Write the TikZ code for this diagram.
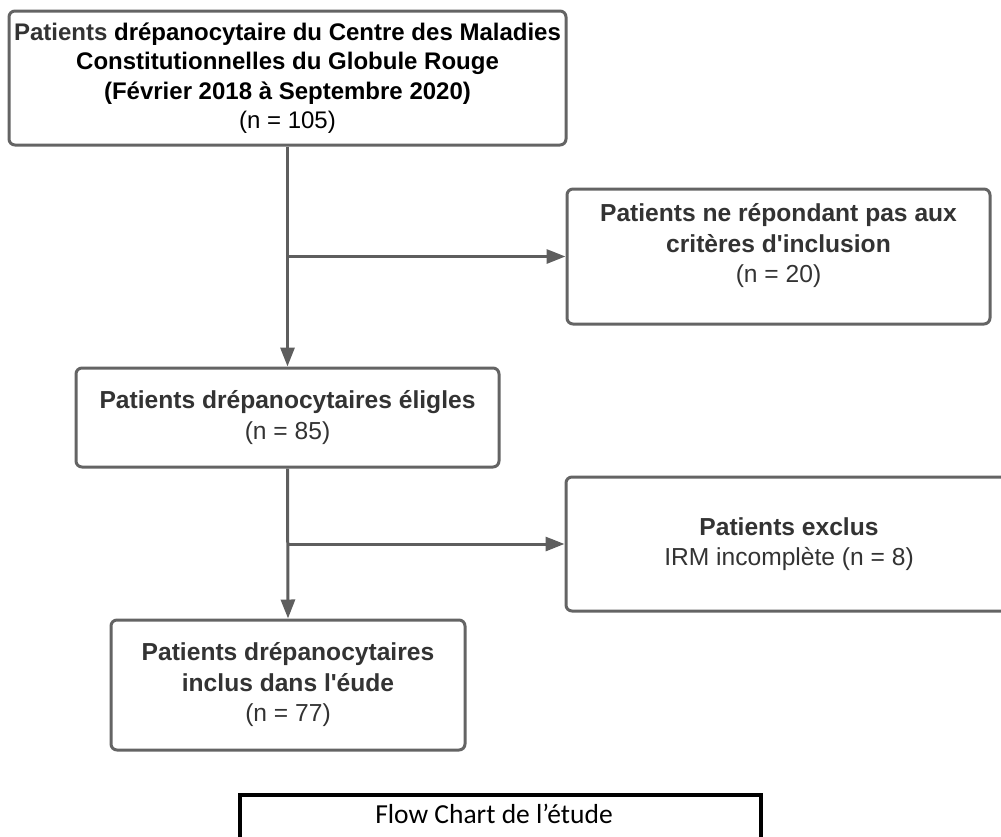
\documentclass[tikz,border=0pt]{standalone}
\usepackage{fontspec}
\setmainfont{Liberation Sans}[Ligatures=TeXOff]
\newfontfamily\calib{Carlito}
\usetikzlibrary{arrows.meta,calc}
\definecolor{boxgray}{HTML}{646464}
\definecolor{linegray}{HTML}{5E5E5E}
\definecolor{txtgray}{HTML}{333333}
\tikzset{
  box/.style={draw=boxgray, line width=3pt, rounded corners=6pt, fill=white, inner sep=0pt,
    align=center, text=txtgray, font=\fontsize{24.6}{30.5}\selectfont},
  txt/.style={inner sep=0pt, align=center, text=txtgray, font=\fontsize{24.6}{30.5}\selectfont},
  conn/.style={draw=linegray, line width=3pt},
  arr/.style={conn, -{Triangle[length=19pt,width=14pt]}},
}
\begin{document}
\begin{tikzpicture}[x=1pt,y=-1pt]
\useasboundingbox (0,0) rectangle (1001,836);
\clip (0,0) rectangle (1001,836);
\node[box, minimum width=557pt, minimum height=134pt, text=black, font=\fontsize{24}{29.5}\selectfont] (b1) at (287.5,78)
  {\textbf{{\color{txtgray}Patients} drépanocytaire du Centre des Maladies}\\
   \textbf{Constitutionnelles du Globule Rouge}\\
   \textbf{(Février 2018 à Septembre 2020)}\\
   (n = 105)};
\node[box, minimum width=423pt, minimum height=135pt] (b2) at (778.5,256.5) {};
\node[txt] (t2) at (778.5,246) {\textbf{Patients ne répondant pas aux}\\ \textbf{critères d'inclusion}\\ (n = 20)};
\node[box, minimum width=423pt, minimum height=99pt] (b3) at (287.5,417.5)
  {\textbf{Patients drépanocytaires éligles}\\ (n = 85)};
\node[box, minimum width=446pt, minimum height=134pt] (b4) at (789,544)
  {\textbf{Patients exclus}\\ IRM incomplète (n = 8)};
\node[box, minimum width=354pt, minimum height=130pt] (b5) at (288,685)
  {\textbf{Patients drépanocytaires}\\ \textbf{inclus dans l'éude}\\ (n = 77)};
\node[draw=black, line width=3.5pt, minimum width=521pt, minimum height=80pt, inner sep=0pt] (b6) at (500.5,835) {};
\node[inner sep=0pt, anchor=base, font=\calib\fontsize{27.5}{32}\selectfont] (t6) at (494,823) {Flow Chart de l’étude};
\coordinate (j1) at (b1.south |- b2.west);
\coordinate (j2) at (b3.south |- b4.west);
\draw[arr] (b1.south) -- (b3.north);
\draw[arr] (j1) -- (b2.west);
\draw[arr] (b3.south) -- (b5.north);
\draw[arr] (j2) -- (b4.west);
\end{tikzpicture}
\end{document}
